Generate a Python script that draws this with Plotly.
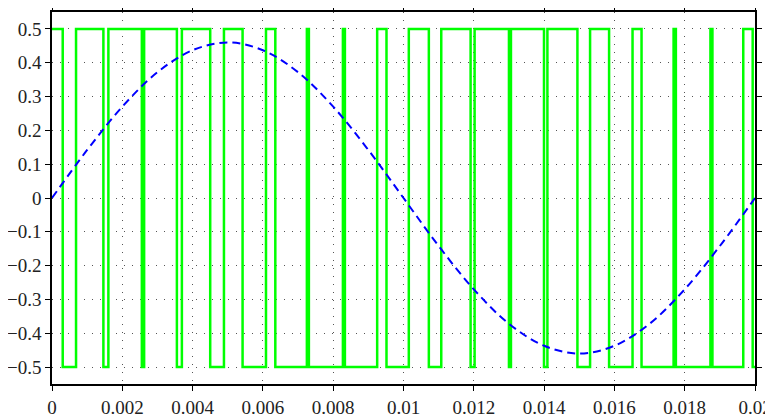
import plotly.graph_objects as go

# PWM switching instants (s), signal starts high (+0.5) and toggles at each edge
pwm_edges = [0.000305, 0.000684, 0.001462, 0.001604, 0.002556, 0.002621,
             0.003553, 0.003695, 0.004501, 0.004892, 0.005422, 0.006088,
             0.006353, 0.007251, 0.007308, 0.008276, 0.008333, 0.009251,
             0.009516, 0.010151, 0.010721, 0.011074, 0.011909, 0.012023,
             0.013000, 0.013057, 0.013997, 0.014094, 0.014948, 0.015308,
             0.015849, 0.016516, 0.016772, 0.017684, 0.017749, 0.018732,
             0.018789, 0.019666, 0.019934]
pwm_high = 0.5
pwm_low = -0.5
t_end = 0.02

# reference (dashed blue)
ref_t = [0.000, 0.001, 0.002, 0.003, 0.004, 0.005, 0.006, 0.007, 0.008, 0.009,
         0.010, 0.011, 0.012, 0.013, 0.014, 0.015, 0.016, 0.017, 0.018, 0.019, 0.020]
ref_v = [0.000, 0.142, 0.270, 0.372, 0.437, 0.460, 0.437, 0.372, 0.270, 0.142,
         0.000, -0.142, -0.270, -0.372, -0.437, -0.460, -0.437, -0.372, -0.270, -0.142, 0.000]

x_ticks = [0, 0.002, 0.004, 0.006, 0.008, 0.01, 0.012, 0.014, 0.016, 0.018, 0.02]
x_labels = ["0", "0.002", "0.004", "0.006", "0.008", "0.01", "0.012", "0.014", "0.016", "0.018", "0.02"]
y_ticks = [0.5, 0.4, 0.3, 0.2, 0.1, 0, -0.1, -0.2, -0.3, -0.4, -0.5]
y_labels = ["0.5", "0.4", "0.3", "0.2", "0.1", "0", "\u22120.1", "\u22120.2", "\u22120.3", "\u22120.4", "\u22120.5"]

# build step waveform
px, py = [0.0], [pwm_high]
state = pwm_high
for e in pwm_edges:
    px.append(e); py.append(state)
    state = pwm_low if state == pwm_high else pwm_high
    px.append(e); py.append(state)
px.append(t_end); py.append(state)

fig = go.Figure()
fig.add_trace(go.Scatter(x=px, y=py, mode="lines",
                         line=dict(color="#00ff00", width=2.5), showlegend=False))
fig.add_trace(go.Scatter(x=ref_t, y=ref_v, mode="lines",
                         line=dict(color="#0000ff", width=2, dash="8px,5px", shape="spline"),
                         showlegend=False))

serif = "Liberation Serif"

def axis_style(rng, vals, texts):
    return dict(range=rng, tickmode="array", tickvals=vals, ticktext=texts,
                showline=True, linecolor="black", linewidth=1.5, mirror="ticks",
                ticks="outside", ticklen=5, tickcolor="black", tickwidth=1,
                showgrid=True, gridcolor="#555555", gridwidth=1, griddash="1px,7px",
                zeroline=False, automargin=False,
                tickfont=dict(family=serif, size=19, color="#222222"))

fig.update_layout(template=None,
                  width=765, height=411,
                  margin=dict(l=44, r=18, t=4, b=35, autoexpand=False),
                  font=dict(family=serif, size=19, color="#222222"),
                  xaxis=axis_style([0, 0.02], x_ticks, x_labels),
                  yaxis=axis_style([-0.55, 0.55], y_ticks, y_labels),
                  plot_bgcolor="white", paper_bgcolor="white")

fig.write_html("out.html", include_plotlyjs=True)
